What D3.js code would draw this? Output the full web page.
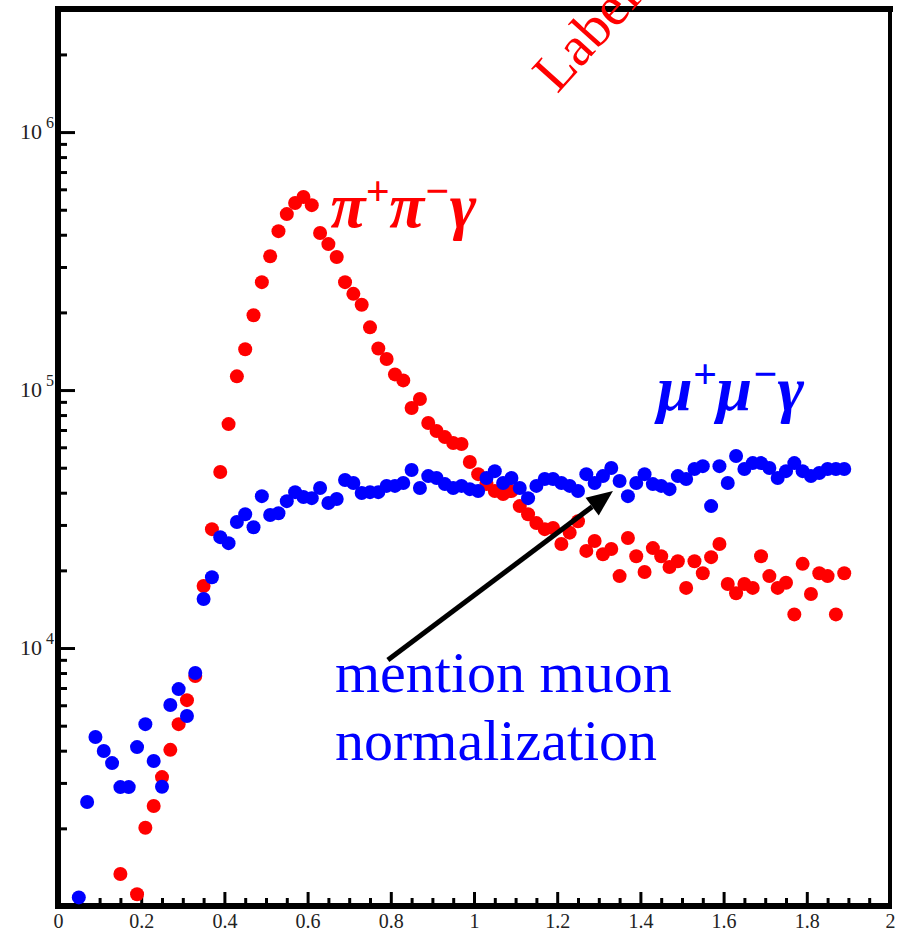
<!DOCTYPE html>
<html>
  <head>
    <meta charset="utf-8" />
    <script src="https://d3js.org/d3.v7.min.js"></script>
    <title>pi pi gamma / mu mu gamma</title>
    <style>
      body { margin: 0; background: #fff; }
      svg { display: block; }
      text { font-family: 'Liberation Serif', 'Times New Roman', serif; }
    </style>
  </head>

  <body>
    <div id="chart"></div>
  </body>

  <script>
    // bin centres (GeV), shared by both channels
    var massBins = [
      0.05, 0.07, 0.09, 0.11, 0.13, 0.15, 0.17, 0.19, 0.21, 0.23,
      0.25, 0.27, 0.29, 0.31, 0.33, 0.35, 0.37, 0.39, 0.41, 0.43,
      0.45, 0.47, 0.49, 0.51, 0.53, 0.55, 0.57, 0.59, 0.61, 0.63,
      0.65, 0.67, 0.69, 0.71, 0.73, 0.75, 0.77, 0.79, 0.81, 0.83,
      0.85, 0.87, 0.89, 0.91, 0.93, 0.95, 0.97, 0.99, 1.01, 1.03,
      1.05, 1.07, 1.09, 1.11, 1.13, 1.15, 1.17, 1.19, 1.21, 1.23,
      1.25, 1.27, 1.29, 1.31, 1.33, 1.35, 1.37, 1.39, 1.41, 1.43,
      1.45, 1.47, 1.49, 1.51, 1.53, 1.55, 1.57, 1.59, 1.61, 1.63,
      1.65, 1.67, 1.69, 1.71, 1.73, 1.75, 1.77, 1.79, 1.81, 1.83,
      1.85, 1.87, 1.89
    ];

    // pi+ pi- gamma events (null = off the bottom of the plot)
    var pipiCounts = [
      null, null, null, null, null, 1330, null, 1110, 2010, 2440,
      3160, 4030, 5070, 6280, 7790, 17400, 28900, 48100, 73800, 113000,
      144000, 195000, 262000, 330000, 413000, 481000, 531000, 560000, 521000, 406000,
      368000, 328000, 262000, 236000, 214000, 175000, 145000, 132000, 115000, 109000,
      85200, 92300, 74500, 69400, 65700, 62300, 61800, 52600, 47200, 43200,
      40600, 39500, 40600, 35500, 33000, 30500, 28900, 29200, 25300, 28000,
      31000, 23800, 26000, 23100, 24200, 19000, 26700, 22700, 19700, 24400,
      22700, 20600, 21700, 17100, 21700, 19500, 22500, 25300, 17700, 16300,
      17700, 17100, 22700, 19000, 17100, 17900, 13500, 21200, 16200, 19500,
      19000, 13500, 19500
    ];

    // mu+ mu- gamma events
    var mumuCounts = [
      1080, 2530, 4520, 3990, 3580, 2890, 2890, 4130, 5070, 3650,
      2900, 6010, 6930, 5450, 8000, 15500, 18800, 26900, 25500, 30800,
      33000, 29400, 38800, 32800, 33300, 37100, 40200, 38500, 38100, 41700,
      36500, 37800, 44800, 43600, 39900, 40200, 40200, 42500, 42500, 43600,
      49000, 41700, 46400, 45600, 43200, 41700, 42500, 41300, 40600, 45600,
      48500, 43600, 45600, 41700, 38100, 42500, 45200, 45200, 43600, 42500,
      40600, 47200, 43600, 46400, 49900, 44400, 38800, 43600, 47200, 43200,
      42500, 41300, 46400, 45200, 49400, 50700, 35500, 50700, 43600, 55500,
      49400, 52100, 52100, 49900, 45600, 48500, 52100, 48500, 46400, 47700,
      49400, 49400, 49400
    ];

    var xTickLabels = [0, 0.2, 0.4, 0.6, 0.8, 1, 1.2, 1.4, 1.6, 1.8, 2];
    var yTickLabels = [1e4, 1e5, 1e6];

    var width = 899,
      height = 932;

    var svg = d3
      .select('#chart')
      .append('svg')
      .attr('width', width)
      .attr('height', height);

    var x = d3.scaleLinear().domain([0, 2]).range([58, 890]);
    var y = d3.scaleLog().domain([1e3, 3e6]).range([906, 9]);

    // minor ticks
    var xMinor = d3.range(0.05, 2, 0.05).filter(
      (d) => Math.abs(d * 5 - Math.round(d * 5)) > 1e-6
    );
    var yMinor = [];
    [1e3, 1e4, 1e5, 1e6].forEach(function (dec) {
      for (var k = 2; k <= 9; k++) {
        if (dec * k < 3e6) yMinor.push(dec * k);
      }
    });

    svg
      .append('g')
      .attr('class', 'x-minor')
      .attr('transform', 'translate(0,906)')
      .call(d3.axisBottom(x).tickValues(xMinor).tickSize(-8).tickFormat(''));

    svg
      .append('g')
      .attr('class', 'x-major')
      .attr('transform', 'translate(0,906)')
      .call(
        d3
          .axisBottom(x)
          .tickValues(xTickLabels)
          .tickSize(-14)
          .tickFormat((d) => String(+d.toFixed(1)))
      );

    svg
      .append('g')
      .attr('class', 'y-minor')
      .attr('transform', 'translate(58,0)')
      .call(d3.axisLeft(y).tickValues(yMinor).tickSize(-9).tickFormat(''));

    svg
      .append('g')
      .attr('class', 'y-major')
      .attr('transform', 'translate(58,0)')
      .call(d3.axisLeft(y).tickValues(yTickLabels).tickSize(-17).tickFormat(''));

    svg.selectAll('.domain').remove();
    svg.selectAll('.tick line').attr('stroke', '#000').attr('stroke-width', 3);
    svg
      .selectAll('.x-major text')
      .attr('fill', '#222')
      .style('font-size', '20px')
      .attr('dy', null)
      .attr('y', 22);

    // y labels written as 10 with a raised exponent
    var yLab = svg.append('g').attr('class', 'y-labels');
    yTickLabels.forEach(function (v) {
      var ty = y(v);
      yLab
        .append('text')
        .attr('x', 42)
        .attr('y', ty + 7)
        .attr('text-anchor', 'end')
        .attr('fill', '#222')
        .style('font-size', '22px')
        .text('10');
      yLab
        .append('text')
        .attr('x', 46)
        .attr('y', ty - 4)
        .attr('fill', '#222')
        .style('font-size', '16px')
        .text(Math.round(Math.log10(v)));
    });

    // frame
    var frame = svg.append('g').attr('stroke', '#000');
    frame.append('line').attr('x1', 55).attr('x2', 893).attr('y1', 9).attr('y2', 9).attr('stroke-width', 6);
    frame.append('line').attr('x1', 58).attr('x2', 58).attr('y1', 6).attr('y2', 909).attr('stroke-width', 6);
    frame.append('line').attr('x1', 55).attr('x2', 892).attr('y1', 906).attr('y2', 906).attr('stroke-width', 6);
    frame.append('line').attr('x1', 890).attr('x2', 890).attr('y1', 6).attr('y2', 909).attr('stroke-width', 4);

    // points
    var pipi = massBins
      .map((m, i) => ({ m: m, v: pipiCounts[i] }))
      .filter((d) => d.v != null);
    var mumu = massBins.map((m, i) => ({ m: m, v: mumuCounts[i] }));

    svg
      .append('g')
      .selectAll('circle')
      .data(pipi)
      .join('circle')
      .attr('cx', (d) => x(d.m))
      .attr('cy', (d) => y(d.v))
      .attr('r', 7)
      .attr('fill', '#ff0000');

    svg
      .append('g')
      .selectAll('circle')
      .data(mumu)
      .join('circle')
      .attr('cx', (d) => x(d.m))
      .attr('cy', (d) => y(d.v))
      .attr('r', 7)
      .attr('fill', '#0000ff');

    // channel labels
    function channelLabel(px, py, col, parts) {
      var t = svg
        .append('text')
        .attr('x', px)
        .attr('y', py)
        .attr('fill', col)
        .style('font-weight', 'bold')
        .style('font-style', 'italic');
      t.append('tspan').style('font-size', '64px').text(parts[0]);
      t.append('tspan').style('font-size', '42px').attr('dy', -22).text('+');
      t.append('tspan').style('font-size', '64px').attr('dy', 22).text(parts[1]);
      t.append('tspan').style('font-size', '42px').attr('dy', -22).text('\u2212');
      t.append('tspan').style('font-size', '64px').attr('dy', 22).text('\u03b3');
    }
    channelLabel(x(0.655), y(4.3e5), '#ff0000', ['\u03c0', '\u03c0']);
    channelLabel(x(1.44), y(8.4e4), '#0000ff', ['\u03bc', '\u03bc']);

    // rotated label, runs off the top of the page
    svg
      .append('text')
      .attr('transform', 'translate(' + x(1.2) + ',' + y(1.4e6) + ') rotate(-48)')
      .attr('fill', '#ff0000')
      .style('font-size', '56px')
      .text('Label');

    // arrow + note
    var arrowFrom = [0.793, 8990],
      arrowTo = [1.334, 40600];
    var ax0 = x(arrowFrom[0]),
      ay0 = y(arrowFrom[1]),
      ax1 = x(arrowTo[0]),
      ay1 = y(arrowTo[1]);
    var ang = Math.atan2(ay1 - ay0, ax1 - ax0);
    var headLen = 26,
      headHalf = 11;
    var bx = ax1 - headLen * Math.cos(ang),
      by = ay1 - headLen * Math.sin(ang);
    svg
      .append('line')
      .attr('x1', ax0)
      .attr('y1', ay0)
      .attr('x2', bx)
      .attr('y2', by)
      .attr('stroke', '#000')
      .attr('stroke-width', 5);
    svg
      .append('path')
      .attr(
        'd',
        'M' + ax1 + ',' + ay1 +
          'L' + (bx - headHalf * Math.sin(ang)) + ',' + (by + headHalf * Math.cos(ang)) +
          'L' + (bx + headHalf * Math.sin(ang)) + ',' + (by - headHalf * Math.cos(ang)) +
          'Z'
      )
      .attr('fill', '#000');

    var note = svg
      .append('text')
      .attr('fill', '#0000ff')
      .style('font-size', '58px');
    note.append('tspan').attr('x', 335).attr('y', 692).text('mention muon');
    note.append('tspan').attr('x', 335).attr('y', 760).text('normalization');
  </script>
</html>
